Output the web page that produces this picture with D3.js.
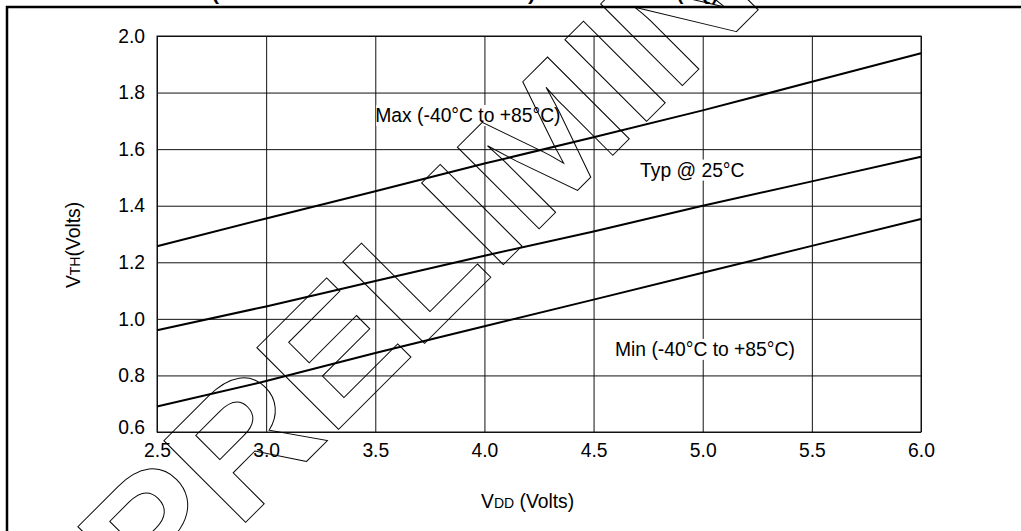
<!DOCTYPE html>
<html>
<head>
<meta charset="utf-8">
<script src="https://cdn.jsdelivr.net/npm/d3@7"></script>
<style>
html, body { margin: 0; padding: 0; background: #fff; overflow: hidden; }
svg { display: block; }
text { font-family: "Liberation Sans", Arial, sans-serif; }
</style>
</head>
<body>
<svg id="canvas"></svg>
<script>
// values
const vdd = [2.5, 3.0, 3.5, 4.0, 4.5, 5.0, 5.5, 6.0];
const vthMax = [1.257, 1.355, 1.451, 1.549, 1.642, 1.737, 1.838, 1.939];
const vthTyp = [0.960, 1.044, 1.134, 1.223, 1.309, 1.400, 1.486, 1.573];
const vthMin = [0.690, 0.780, 0.879, 0.974, 1.068, 1.163, 1.258, 1.353];
const seriesNames = ["Max (-40°C to +85°C)", "Typ @ 25°C", "Min (-40°C to +85°C)"];
const xTicks = [2.5, 3.0, 3.5, 4.0, 4.5, 5.0, 5.5, 6.0];
const yTicks = [0.6, 0.8, 1.0, 1.2, 1.4, 1.6, 1.8, 2.0];

const width = 1021;
const height = 531;
const margin = {top: 36, right: 100, bottom: 99, left: 157};
const innerWidth = width - margin.left - margin.right;
const innerHeight = height - margin.top - margin.bottom;
const fontSize = 19.3;

const svg = d3.select("#canvas").attr("width", width).attr("height", height).attr("viewBox", `0 0 ${width} ${height}`);

const xScale = d3.scaleLinear().domain([2.5, 6.0]).range([0, innerWidth]);
const yScale = d3.scaleLinear().domain([0.6, 2.0]).range([innerHeight, 0]);

// title, mostly cut off above the frame
const titleGroup = svg.append("g").style("font-weight", "bold").style("font-size", "19px");
titleGroup.append("text").attr("x", 78).attr("y", 0).text("FIGURE 10-3: VTH");
titleGroup.append("text").attr("x", 212).attr("y", 0).attr("textLength", 323).attr("lengthAdjust", "spacingAndGlyphs").text("(INPUT THRESHOLD VOLTAGE)");
titleGroup.append("text").attr("x", 548).attr("y", 0).attr("textLength", 118).attr("lengthAdjust", "spacingAndGlyphs").text("VS. VDD");
titleGroup.append("text").attr("x", 677).attr("y", 0).text("(HQ)");

// outer frame (top and left edges)
svg.append("path")
    .attr("d", `M7,${height} L7,7 L${width + 5},7`)
    .attr("fill", "none")
    .attr("stroke", "#000")
    .attr("stroke-width", 2.5);

const mainGroup = svg.append("g").attr("transform", `translate(${margin.left}, ${margin.top})`);
const xGroup = mainGroup.append("g").attr("transform", `translate(0, ${innerHeight})`);
const yGroup = mainGroup.append("g");

const xAxis = d3.axisBottom(xScale).tickValues(xTicks).tickSize(-innerHeight).tickPadding(11).tickFormat(d3.format(".1f"));
const yAxis = d3.axisLeft(yScale).tickValues(yTicks).tickSize(-innerWidth).tickPadding(12).tickFormat(d3.format(".1f"));

xGroup.call(xAxis)
    .call(g => g.select(".domain").remove())
    .call(g => g.selectAll("line").attr("stroke", "#111"))
    .call(g => g.selectAll("text").attr("fill", "#000").style("font-size", fontSize + "px").style("font-family", "Liberation Sans, Arial, sans-serif"));

yGroup.call(yAxis)
    .call(g => g.select(".domain").remove())
    .call(g => g.selectAll("line").attr("stroke", "#111"))
    .call(g => g.selectAll("text").attr("fill", "#000").style("font-size", fontSize + "px").style("font-family", "Liberation Sans, Arial, sans-serif"))
    .call(g => g.selectAll(".tick").filter(d => d === 0.6).select("text").attr("dy", "0.1em"));

mainGroup.append("rect")
    .attr("x", 0).attr("y", 0)
    .attr("width", innerWidth).attr("height", innerHeight)
    .attr("fill", "none")
    .attr("stroke", "#111");

// curves
const line = d3.line().x((d, i) => xScale(vdd[i])).y(d => yScale(d));
mainGroup.selectAll("path.curve")
    .data([vthMax, vthTyp, vthMin])
    .join("path")
    .classed("curve", true)
    .attr("d", line)
    .attr("fill", "none")
    .attr("stroke", "#000")
    .attr("stroke-width", 2);

// PRELIMINARY watermark
svg.append("text")
    .attr("transform", "translate(151, 617) rotate(-45) scale(1.085, 1)")
    .attr("fill", "none")
    .attr("stroke", "#000")
    .attr("stroke-width", 1)
    .attr("vector-effect", "non-scaling-stroke")
    .style("font-size", "168px")
    .style("font-weight", "bold")
    .text("PRELIMINARY");

// series labels with white boxes
const labelPos = [[3.5, 1.696], [4.713, 1.503], [4.598, 0.869]];
seriesNames.forEach((name, i) => {
    const g = mainGroup.append("g");
    const t = g.append("text")
        .attr("x", xScale(labelPos[i][0]))
        .attr("y", yScale(labelPos[i][1]))
        .attr("fill", "#000")
        .style("font-size", fontSize + "px")
        .text(name);
    const bb = t.node().getBBox();
    g.insert("rect", "text")
        .attr("x", bb.x + 1).attr("y", bb.y)
        .attr("width", bb.width).attr("height", bb.height)
        .attr("fill", "#fff");
});

// axis titles
const xTitle = svg.append("text")
    .attr("x", 481).attr("y", 508)
    .attr("fill", "#000")
    .style("font-size", fontSize + "px");
xTitle.append("tspan").text("V");
xTitle.append("tspan").style("font-size", "14px").text("DD");
xTitle.append("tspan").text(" (Volts)");

const yTitle = svg.append("text")
    .attr("transform", "translate(80, 245) rotate(-90)")
    .attr("text-anchor", "middle")
    .attr("fill", "#000")
    .style("font-size", fontSize + "px");
yTitle.append("tspan").text("V");
yTitle.append("tspan").style("font-size", "14px").text("TH");
yTitle.append("tspan").text("(Volts)");

// keep the right strip blank below the top edge
svg.append("rect")
    .attr("x", width - 12).attr("y", 9)
    .attr("width", 12).attr("height", height - 9)
    .attr("fill", "#fff");
</script>
</body>
</html>
